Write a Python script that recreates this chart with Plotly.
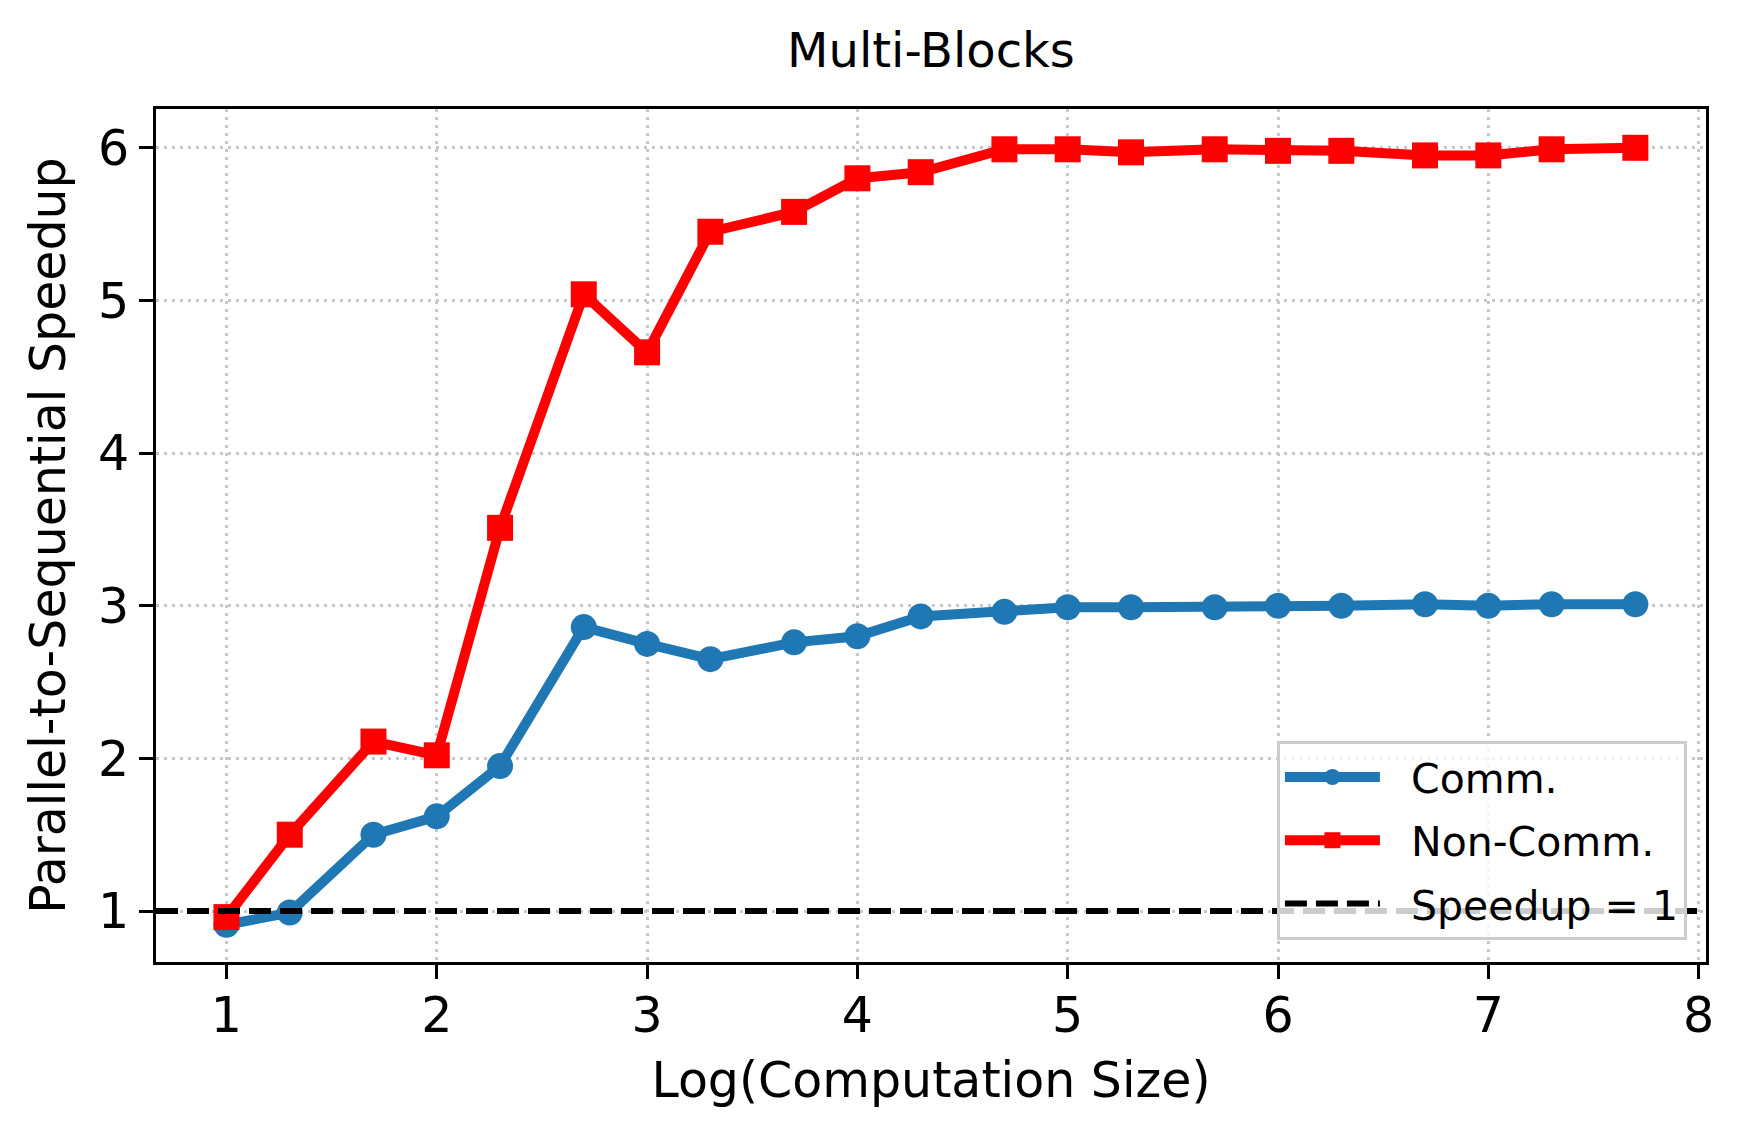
import plotly.graph_objects as go

# ---- data ----
log_size = [1.0, 1.301, 1.699, 2.0, 2.301, 2.699, 3.0, 3.301, 3.699, 4.0, 4.301,
            4.699, 5.0, 5.301, 5.699, 6.0, 6.301, 6.699, 7.0, 7.301, 7.699]
comm = [0.91, 0.99, 1.50, 1.62, 1.95, 2.86, 2.75, 2.65, 2.76, 2.80, 2.93,
        2.96, 2.99, 2.99, 2.99, 3.00, 3.00, 3.01, 3.00, 3.01, 3.01]
non_comm = [0.96, 1.50, 2.11, 2.02, 3.51, 5.04, 4.66, 5.45, 5.58, 5.80, 5.84,
            5.99, 5.99, 5.97, 5.99, 5.98, 5.98, 5.95, 5.95, 5.99, 6.00]
baseline = 1.0
x_ticks = [1, 2, 3, 4, 5, 6, 7, 8]
y_ticks = [1, 2, 3, 4, 5, 6]
series_names = ["Comm.", "Non-Comm.", "Speedup = 1"]

FONT = "DejaVu Sans"
BLUE = "#1f77b4"
RED = "#ff0000"
GAP = "\u00a0\u00a0"  # space between legend symbol and label

# page body has an 8px margin; figure is sized so it fits the window exactly
W, H = 1729, 1119

fig = go.Figure()
fig.add_trace(go.Scatter(
    x=log_size, y=comm, mode="lines+markers", name=GAP + series_names[0], legendgroup="a",
    line=dict(color=BLUE, width=10),
    marker=dict(symbol="circle", size=26, color=BLUE),
))
fig.add_trace(go.Scatter(
    x=log_size, y=non_comm, mode="lines+markers", name=GAP + series_names[1], legendgroup="b",
    line=dict(color=RED, width=10),
    marker=dict(symbol="square", size=26, color=RED),
))

fig.add_shape(
    type="line", xref="x domain", yref="y", x0=0, x1=1, y0=baseline, y1=baseline,
    line=dict(color="black", width=6, dash="22px,9px"),
    showlegend=True, name=GAP + series_names[2], legendrank=1001, legendgroup="c",
)

axis_common = dict(
    showline=True, linecolor="black", linewidth=3.2, mirror=True,
    ticks="outside", ticklen=14, tickwidth=3.2, tickcolor="black",
    showgrid=True, gridcolor="#c8c8c8", gridwidth=3, griddash="3px,5px",
    zeroline=False,
    tickfont=dict(family=FONT, size=49, color="black"),
)

fig.update_xaxes(
    range=[0.665, 8.035], tickvals=x_ticks, ticktext=[str(v) for v in x_ticks],
    ticklabelstandoff=-6,
    title=dict(text="Log(Computation Size)", font=dict(family=FONT, size=49, color="black"), standoff=20),
    **axis_common,
)
fig.update_yaxes(
    range=[0.666, 6.254], tickvals=y_ticks, ticktext=[str(v) for v in y_ticks],
    title=dict(text="Parallel-to-Sequential Speedup", font=dict(family=FONT, size=49, color="black"), standoff=17),
    **axis_common,
)

fig.update_layout(
    width=W, height=H,
    margin=dict(l=148, r=31, t=101, b=165, autoexpand=False),
    paper_bgcolor="white", plot_bgcolor="white",
    font=dict(family=FONT, color="black"),
    title=dict(text="Multi-Blocks", x=(148 + (W - 31)) / 2 / W, xanchor="center",
               y=1 - 42 / H, yanchor="middle", yref="container",
               font=dict(family=FONT, size=48, color="black")),
    showlegend=True,
    legend=dict(
        x=0.9877, xanchor="right", y=0.026, yanchor="bottom",
        bgcolor="rgba(255,255,255,0.8)", bordercolor="#cccccc", borderwidth=3,
        font=dict(family=FONT, size=41, color="black"),
        itemwidth=95, traceorder="grouped", tracegroupgap=7,
    ),
)

fig.write_html("out.html")
